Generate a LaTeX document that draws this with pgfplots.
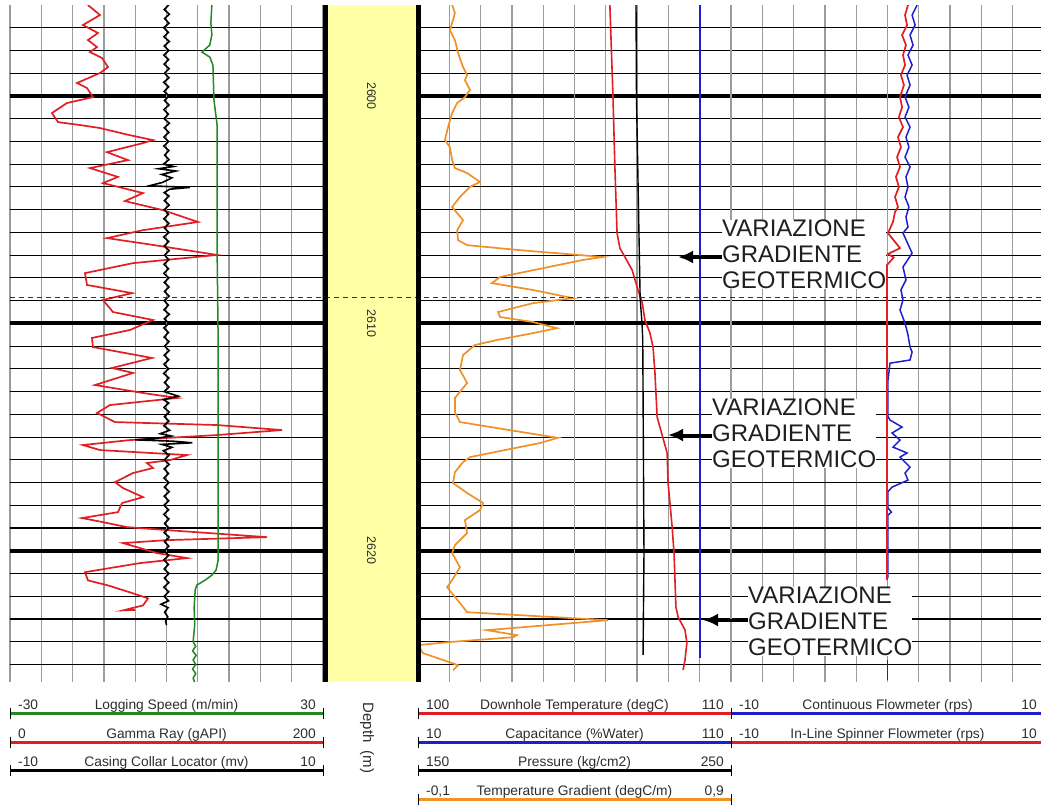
\documentclass[border=0pt]{standalone}
\usepackage{pgfplots}
\pgfplotsset{compat=1.18}
\usepackage{fontspec}
\setmainfont{Liberation Sans}
\usetikzlibrary{arrows.meta}
\definecolor{grd}{RGB}{155,155,155}
\definecolor{grdd}{RGB}{115,115,115}
\definecolor{cred}{RGB}{225,30,35}
\definecolor{cblue}{RGB}{30,30,205}
\definecolor{cgreen}{RGB}{35,135,35}
\definecolor{corange}{RGB}{240,145,40}
\definecolor{cyell}{RGB}{255,255,165}
\definecolor{ctext}{RGB}{45,45,45}
\pgfplotsset{
  trk/.style={scale only axis, width=313pt, height=677pt, ymin=2596, ymax=2625.77,
    y dir=reverse, anchor=north west, axis line style={draw=none},
    major tick length=0pt, minor tick length=0pt, xticklabels={}, yticklabels={}},
  ovl/.style={trk, hide axis},
  gridtrk/.style={trk, xmajorgrids, ymajorgrids, yminorgrids,
    ytick={2600,2610,2620}, minor ytick={2597,...,2625},
    x grid style={grd, line width=1.3pt},
    minor y grid style={black, line width=1.1pt},
    major y grid style={black, line width=4pt},
    extra x tick labels={}, extra x tick style={grid style={grdd, line width=2.8pt}}},
}
\newcommand{\lgfont}{\fontsize{13.8}{16}\selectfont}
\newcommand{\anfont}{\fontsize{24}{26}\selectfont}
\begin{document}
\begin{tikzpicture}
\path[use as bounding box] (0,0) rectangle (1041pt,-807pt);

% ---------------- Track 1 ----------------
\begin{axis}[gridtrk, at={(10pt,-5pt)}, xmin=0, xmax=200, xtick={0,20,...,200}, extra x ticks={100}]
\addplot[cred, line width=1.7pt] coordinates {
(49.8,2596.00) (57.5,2596.44) (46.6,2596.88) (56.2,2597.23) (49.8,2597.54) (55.6,2597.85) (51.1,2598.07) (58.8,2598.33) (62.6,2598.73) (57.5,2598.99) (42.8,2599.43) (49.2,2599.65) (53.0,2600.05) (36.4,2600.31) (26.8,2600.75) (30.7,2601.15) (45.0,2601.28) (57.5,2601.41) (75.0,2601.70) (91.4,2601.94) (85.0,2602.07) (62.0,2602.47) (75.4,2602.82) (51.1,2603.17) (69.0,2603.56) (59.4,2603.83) (85.0,2604.27) (73.5,2604.62) (81.2,2604.75) (97.8,2605.02) (120.1,2605.54) (85.0,2605.90) (62.0,2606.25) (91.4,2606.55) (132.3,2606.99) (78.6,2607.35) (47.9,2607.79) (49.2,2608.31) (78.0,2608.67) (59.4,2608.97) (65.8,2609.50) (91.4,2609.85) (76.7,2610.29) (52.4,2610.64) (53.0,2611.04) (90.7,2611.52) (65.2,2611.96) (78.6,2612.18) (54.3,2612.71) (85.0,2613.06) (106.7,2613.28) (63.9,2613.59) (55.6,2613.94) (67.1,2614.34) (132.3,2614.47) (173.8,2614.69) (132.3,2614.91) (76.7,2615.13) (46.6,2615.35) (57.5,2615.57) (113.1,2615.79) (102.2,2616.01) (87.5,2616.14) (91.4,2616.36) (78.6,2616.58) (67.1,2616.98) (72.2,2617.24) (85.0,2617.64) (71.6,2617.90) (69.0,2618.30) (46.0,2618.56) (59.4,2618.74) (74.8,2618.96) (100.3,2619.09) (164.2,2619.40) (100.3,2619.53) (72.2,2619.66) (83.1,2619.88) (93.9,2620.10) (113.1,2620.32) (83.1,2620.54) (47.9,2620.94) (49.8,2621.30) (62.6,2621.52) (78.6,2621.87) (88.2,2622.09) (85.0,2622.40) (72.2,2622.62) (79.9,2622.60)};
\end{axis}
% CCL
\begin{axis}[ovl, at={(10pt,-5pt)}, xmin=-10, xmax=10]
\addplot[black, line width=1.6pt] coordinates {
(0.15,2596.0) (-0.15,2596.2) (0.18,2596.4) (-0.12,2596.6) (0.16,2596.8) (-0.18,2597.0) (0.12,2597.2) (-0.16,2597.4) (0.18,2597.6) (-0.14,2597.8) (0.15,2598.0) (-0.17,2598.2) (0.13,2598.4) (-0.15,2598.6) (0.17,2598.8) (-0.12,2599.0) (0.16,2599.2) (-0.18,2599.4) (0.14,2599.6) (-0.15,2599.8) (0.17,2600.0) (-0.13,2600.2) (0.16,2600.4) (-0.17,2600.6) (0.12,2600.8) (-0.15,2601.0) (0.18,2601.2) (-0.14,2601.4) (0.15,2601.6) (-0.16,2601.8) (0.13,2602.0) (-0.17,2602.2) (0.15,2602.4) (-0.12,2602.6) (0.16,2602.8)
(-0.2,2603.0) (0.45,2603.1) (-0.5,2603.2) (0.6,2603.3) (-0.3,2603.45) (0.35,2603.6) (-0.25,2603.8) (-1.1,2603.95) (1.5,2604.02) (0.2,2604.1) (-0.15,2604.25) (0.16,2604.4)
(-0.14,2604.6) (0.17,2604.8) (-0.15,2605.0) (0.13,2605.2) (-0.17,2605.4) (0.15,2605.6) (-0.13,2605.8) (0.16,2606.0) (-0.18,2606.2) (0.14,2606.4) (-0.15,2606.6) (0.17,2606.8) (-0.12,2607.0) (0.15,2607.2) (-0.16,2607.4) (0.13,2607.6) (-0.17,2607.8) (0.15,2608.0) (-0.14,2608.2) (0.16,2608.4) (-0.13,2608.6) (0.17,2608.8) (-0.15,2609.0) (0.12,2609.2) (-0.16,2609.4) (0.18,2609.6) (-0.14,2609.8) (0.15,2610.0) (-0.17,2610.2) (0.13,2610.4) (-0.15,2610.6) (0.16,2610.8) (-0.12,2611.0) (0.17,2611.2) (-0.15,2611.4) (0.14,2611.6) (-0.16,2611.8) (0.13,2612.0) (-0.18,2612.2) (0.15,2612.4) (-0.13,2612.6) (0.16,2612.8) (-0.15,2613.0) (0.75,2613.2) (-0.2,2613.35) (0.14,2613.5) (-0.16,2613.7) (0.17,2613.9) (-0.13,2614.1) (0.15,2614.3) (-0.17,2614.5) (0.2,2614.7) (-0.4,2614.85)
(0.3,2614.95) (-0.6,2615.05) (-2.0,2615.12) (0.4,2615.18) (1.65,2615.25) (-0.3,2615.32) (0.35,2615.45) (-0.2,2615.6) (0.16,2615.8)
(-0.14,2616.0) (0.17,2616.2) (-0.15,2616.4) (0.13,2616.6) (-0.16,2616.8) (0.15,2617.0) (-0.13,2617.2) (0.17,2617.4) (-0.15,2617.6) (0.14,2617.8) (-0.16,2618.0) (0.13,2618.2) (-0.17,2618.4) (0.15,2618.6) (-0.12,2618.8) (0.16,2619.0) (-0.15,2619.2) (0.17,2619.4) (-0.13,2619.6) (0.15,2619.8) (-0.16,2620.0) (0.14,2620.2) (-0.17,2620.4) (0.13,2620.6) (-0.15,2620.8) (0.16,2621.0) (-0.13,2621.2) (0.15,2621.4) (-0.17,2621.6) (0.14,2621.8) (-0.15,2622.0) (0.13,2622.2) (-0.35,2622.35) (0.1,2622.5) (-0.12,2622.7) (0.08,2622.9) (-0.05,2623.1) (0.0,2623.27)};
\end{axis}
% Logging speed
\begin{axis}[ovl, at={(10pt,-5pt)}, xmin=-30, xmax=30]
\addplot[cgreen, line width=1.5pt] coordinates {
(8.7,2596.0) (8.5,2596.8) (8.7,2597.3) (8.3,2597.76) (6.8,2598.07) (8.3,2598.29) (8.9,2598.64) (9.1,2600.18) (9.7,2601.28) (9.7,2606.78) (9.9,2610.73) (9.9,2620.41) (9.5,2620.85) (8.7,2621.07) (7.4,2621.29) (5.8,2621.51) (5.5,2621.73) (5.3,2622.5) (5.4,2623.3) (5.1,2624.0) (5.6,2624.2) (5.0,2624.4) (5.7,2624.6) (5.1,2624.8) (5.6,2625.0) (5.0,2625.2) (5.6,2625.4) (5.1,2625.6) (5.4,2625.77)};
\end{axis}

% ---------------- Track 3 ----------------
\begin{axis}[gridtrk, at={(418pt,-5pt)}, xmin=100, xmax=110, xtick={100,...,110}, extra x ticks={105,110}]
\addplot[cred, line width=1.6pt] coordinates {
(106.13,2596.0) (106.23,2600.05) (106.29,2603.12) (106.36,2606.03) (106.45,2606.69) (106.61,2607.08) (106.84,2607.65) (107.03,2608.53) (107.16,2609.06) (107.25,2609.85) (107.41,2610.42) (107.51,2611.04) (107.57,2612.18) (107.64,2614.12) (107.80,2614.91) (107.96,2615.70) (107.99,2617.02) (108.12,2618.96) (108.18,2620.10) (108.24,2622.47) (108.31,2622.91) (108.53,2623.48) (108.59,2624.05) (108.53,2624.80) (108.47,2625.24)};
\end{axis}
% Pressure
\begin{axis}[ovl, at={(418pt,-5pt)}, xmin=150, xmax=250]
\addplot[black, line width=1.4pt] coordinates {
(219.65,2596.0) (219.8,2600.05) (220.97,2608.9) (221.57,2610.0) (221.8,2610.73) (222.2,2620.1) (221.9,2624.58)};
\end{axis}
% Capacitance
\begin{axis}[ovl, at={(418pt,-5pt)}, xmin=10, xmax=110]
\addplot[cblue, line width=1.5pt] coordinates {(100.1,2596.0) (100.1,2624.71)};
\end{axis}
% Temperature gradient
\begin{axis}[ovl, at={(418pt,-5pt)}, xmin=-0.1, xmax=0.9]
\addplot[corange, line width=1.7pt] coordinates {
(0.009,2596.00) (0.018,2596.35) (0.009,2596.79) (0.002,2597.10) (0.018,2597.54) (0.028,2598.11) (0.044,2598.73) (0.057,2599.08) (0.050,2599.30) (0.066,2599.74) (0.050,2600.05) (0.025,2600.31) (0.009,2600.75) (-0.004,2601.37) (-0.014,2601.94) (0.002,2602.25) (0.009,2602.82) (0.018,2603.17) (0.057,2603.39) (0.098,2603.78) (0.066,2604.00) (0.034,2604.44) (0.009,2604.88) (0.025,2605.15) (0.044,2605.46) (0.025,2605.90) (0.028,2606.34) (0.057,2606.56) (0.226,2606.78) (0.491,2607.08) (0.427,2607.21) (0.162,2607.96) (0.136,2608.23) (0.267,2608.53) (0.395,2608.89) (0.267,2609.11) (0.156,2609.50) (0.162,2609.72) (0.267,2609.94) (0.344,2610.21) (0.267,2610.43) (0.152,2610.73) (0.082,2610.95) (0.044,2611.39) (0.034,2612.05) (0.057,2612.62) (0.018,2613.28) (0.018,2613.90) (0.034,2614.34) (0.331,2615.00) (0.347,2615.03) (0.290,2615.26) (0.066,2615.88) (0.044,2616.10) (0.018,2616.54) (0.012,2617.02) (0.057,2617.46) (0.108,2617.90) (0.098,2618.21) (0.050,2618.65) (0.057,2619.22) (0.018,2619.75) (0.009,2620.10) (0.034,2620.72) (0.009,2621.29) (-0.007,2621.60) (0.034,2622.30) (0.057,2622.70) (0.507,2623.05) (0.120,2623.49) (0.216,2623.71) (0.204,2623.80) (-0.007,2624.02) (-0.1,2624.15) (-0.084,2624.50) (0.028,2625.03) (0.012,2625.25)};
\end{axis}

% ---------------- Track 4 ----------------
\begin{axis}[gridtrk, at={(731pt,-5pt)}, xmin=-10, xmax=10, xtick={-10,-8,...,10}, extra x ticks={-10,0}]
\addplot[cblue, line width=1.5pt] coordinates {
(1.89,2596.00) (1.57,2596.44) (1.76,2596.88) (1.44,2597.32) (1.63,2597.76) (1.31,2598.20) (1.57,2598.64) (1.25,2599.08) (1.44,2599.52) (1.12,2600.05) (1.37,2600.49) (1.12,2600.93) (1.44,2601.37) (1.18,2601.81) (1.37,2602.25) (1.12,2602.69) (1.44,2603.12) (1.18,2603.56) (1.31,2604.00) (1.12,2604.44) (1.37,2604.88) (1.18,2605.32) (1.31,2605.76) (0.99,2606.03) (1.57,2606.91) (0.99,2607.52) (1.18,2608.09) (0.86,2608.53) (0.99,2608.97) (0.80,2609.41) (1.12,2609.99) (1.31,2610.51) (1.44,2611.04) (1.57,2611.26) (1.44,2611.61) (0.16,2611.75) (0.03,2612.5) (0.03,2614.1) (0.16,2614.25) (0.93,2614.56) (0.29,2614.82) (0.80,2615.13) (0.35,2615.44) (1.25,2615.70) (0.80,2615.88) (1.44,2616.32) (1.12,2616.58) (1.31,2616.89) (0.29,2617.20) (0.03,2617.4) (0.03,2618.12) (0.25,2618.30) (0.03,2618.43) (0.03,2621.2)};
\addplot[cblue, line width=1.8pt] coordinates {(0.0,2624.81) (0.0,2625.69)};
\addplot[cred, line width=1.7pt] coordinates {
(1.31,2596.00) (1.12,2596.44) (1.25,2596.88) (0.93,2597.32) (1.18,2597.76) (0.99,2598.20) (1.12,2598.64) (0.86,2599.08) (1.05,2599.52) (0.80,2600.05) (0.93,2600.49) (0.73,2600.93) (0.99,2601.37) (0.67,2601.81) (0.86,2602.25) (0.61,2602.69) (0.80,2603.12) (0.54,2603.56) (0.73,2604.00) (0.48,2604.44) (0.67,2604.88) (0.48,2605.10) (0.35,2605.54) (0.03,2606.03) (0.80,2606.69) (0.03,2606.95) (0.4,2607.1) (-0.03,2607.43) (-0.03,2608.84) (-0.03,2621.29)};
\end{axis}

% ---------------- Depth track ----------------
\begin{axis}[trk, at={(325pt,-5pt)}, width=93pt, xmin=0, xmax=1, clip=false,
  axis background/.style={fill=cyell}]
\addplot[draw=none] coordinates {(0.5,2600)};
\node[rotate=-90, text=ctext, font=\fontsize{12.5}{14}\selectfont] at (axis cs:0.5,2600) {2600};
\node[rotate=-90, text=ctext, font=\fontsize{12.5}{14}\selectfont] at (axis cs:0.5,2610) {2610};
\node[rotate=-90, text=ctext, font=\fontsize{12.5}{14}\selectfont] at (axis cs:0.5,2620) {2620};
\end{axis}

% dashed depth marker across all tracks
\begin{axis}[ovl, at={(10pt,-5pt)}, width=1034pt, xmin=0, xmax=1]
\addplot[black!80, line width=0.9pt, dash pattern=on 5pt off 4pt] coordinates {(0,2608.85) (1,2608.85)};
\end{axis}

% thick track borders
\draw[black, line width=5pt] (325pt,-5pt) -- (325pt,-682pt);
\draw[black, line width=5pt] (418pt,-5pt) -- (418pt,-682pt);

% ---------------- annotations ----------------
\node[anchor=north west, fill=white, inner sep=0pt, align=left, text=black!88, font=\anfont] at (722pt,-219.5pt) {VARIAZIONE\\GRADIENTE\\GEOTERMICO};
\draw[black, line width=3pt, -{Latex[length=15pt, width=13pt]}] (722pt,-257pt) -- (678pt,-257pt);
\node[anchor=north west, fill=white, inner sep=0pt, align=left, text=black!88, font=\anfont] at (712pt,-398.5pt) {VARIAZIONE\\GRADIENTE\\GEOTERMICO};
\draw[black, line width=3pt, -{Latex[length=15pt, width=13pt]}] (712pt,-435pt) -- (668pt,-435pt);
\node[anchor=north west, fill=white, inner sep=0pt, align=left, text=black!88, font=\anfont] at (748pt,-586.5pt) {VARIAZIONE\\GRADIENTE\\GEOTERMICO};
\draw[black, line width=3pt, -{Latex[length=15pt, width=13pt]}] (748pt,-620pt) -- (703pt,-620pt);

% ---------------- scale legends ----------------
\newcommand{\scalebar}[7]{%
  \draw[#3, line width=3pt] (#1pt,-#5pt) -- (#2pt,-#5pt);
  \draw[black, line width=1pt] (#1pt,-#5pt+5pt) -- (#1pt,-#5pt-6pt);
  \draw[black, line width=1pt] (#2pt,-#5pt+5pt) -- (#2pt,-#5pt-6pt);
  \node[anchor=base west, text=ctext, font=\lgfont, inner sep=0pt] at (#1pt+8pt,-#5pt+3.5pt) {#4};
  \node[anchor=base, text=ctext, font=\lgfont, inner sep=0pt] at ({(#1+#2)/2*1pt},-#5pt+3.5pt) {#6};
  \node[anchor=base east, text=ctext, font=\lgfont, inner sep=0pt] at (#2pt-7pt,-#5pt+3.5pt) {#7};
}
\scalebar{10}{323}{cgreen}{-30}{713}{Logging Speed (m/min)}{30}
\scalebar{10}{323}{cred}{0}{742}{Gamma Ray (gAPI)}{200}
\scalebar{10}{323}{black}{-10}{770}{Casing Collar Locator (mv)}{10}
\scalebar{418}{731}{cred}{100}{713}{Downhole Temperature (degC)}{110}
\scalebar{418}{731}{cblue}{10}{742}{Capacitance (\%Water)}{110}
\scalebar{418}{731}{black}{150}{770}{Pressure (kg/cm2)}{250}
\scalebar{418}{731}{corange}{-0,1}{799}{Temperature Gradient (degC/m)}{0,9}
\scalebar{731}{1044}{cblue}{-10}{713}{Continuous Flowmeter (rps)}{10}
\scalebar{731}{1044}{cred}{-10}{742}{In-Line Spinner Flowmeter (rps)}{10}
\node[rotate=-90, text=ctext, font=\fontsize{15}{17}\selectfont] at (367pt,-738pt) {Depth\ \ (m)};
\end{tikzpicture}
\end{document}
